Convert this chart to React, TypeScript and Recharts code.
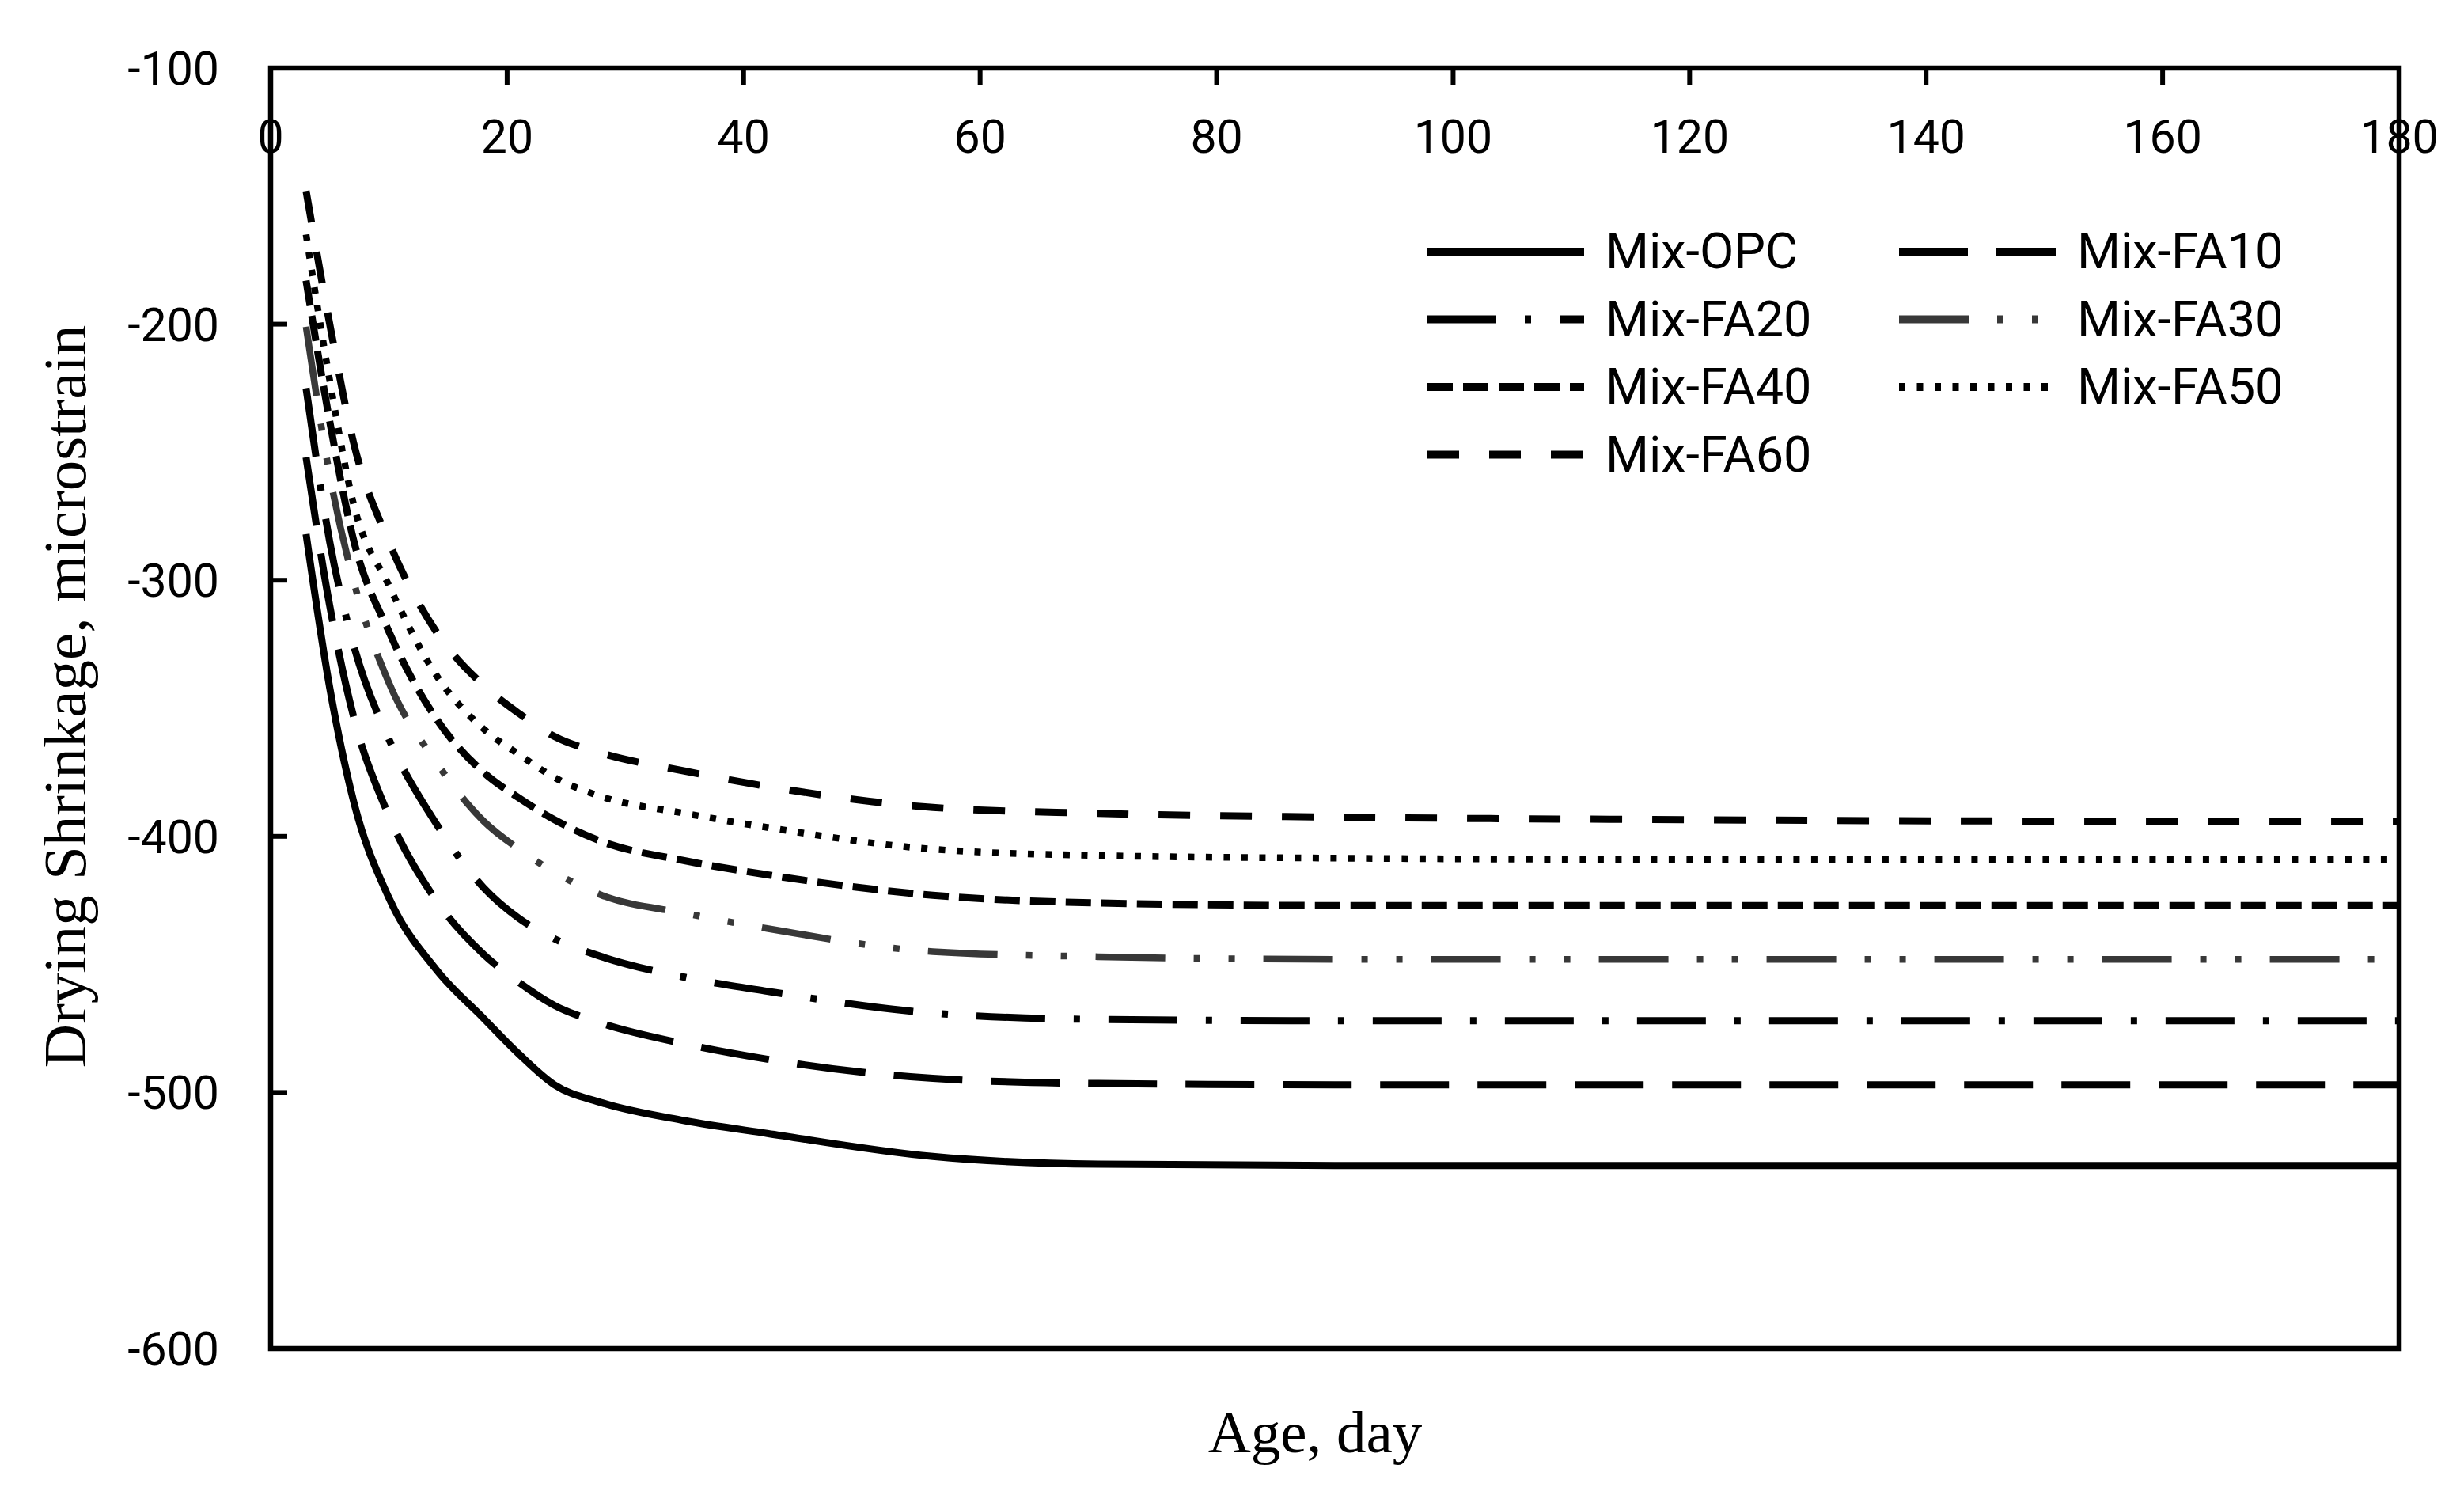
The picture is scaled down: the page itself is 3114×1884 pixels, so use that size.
import React from 'react';
import { LineChart, Line, XAxis, YAxis, Legend, ReferenceArea } from 'recharts';

// Age (days) at which values were read
const days = [3, 5, 7, 10, 14, 18, 21, 24, 28, 35, 42, 56, 70, 90, 120, 150, 180];

// Drying shrinkage (microstrain)
const mixOPC = [-282, -342, -386, -424, -452, -471, -485, -497, -504, -511, -516, -525, -528, -528.5, -528.5, -528.5, -528.5];
const mixFA10 = [-252, -310, -353, -392, -425, -446, -457, -466, -473, -481, -487, -494.5, -496.5, -497, -497, -497, -497];
const mixFA20 = [-225, -285, -325, -362, -395, -420, -432, -440, -447, -455, -460.5, -469, -471.5, -472, -472, -472, -472];
const mixFA30 = [-201, -259, -300, -340, -371, -394, -405, -414, -423, -430, -436, -445, -447, -448, -448, -448, -448];
const mixFA40 = [-183, -238, -284, -320, -354, -375, -385, -393.5, -402, -409.5, -415, -423, -426, -427, -427, -427, -427];
const mixFA50 = [-165, -222, -270, -302, -337, -358, -368, -377, -384.5, -391, -396.5, -405, -407.5, -408.5, -409, -409, -409];
const mixFA60 = [-148, -200, -246, -285, -320, -341, -352, -361, -367.5, -374.5, -380.5, -388.7, -391, -392.5, -393.5, -394, -394];

const xTicks = [0, 20, 40, 60, 80, 100, 120, 140, 160, 180];
const yTicks = [-600, -500, -400, -300, -200, -100];

const data = days.map((d, i) => ({
  day: d,
  opc: mixOPC[i],
  fa10: mixFA10[i],
  fa20: mixFA20[i],
  fa30: mixFA30[i],
  fa40: mixFA40[i],
  fa50: mixFA50[i],
  fa60: mixFA60[i],
}));

const series = [
  { key: 'opc', name: 'Mix-OPC', dash: undefined as string | undefined, color: '#000', width: 9 },
  { key: 'fa10', name: 'Mix-FA10', dash: '87 36', color: '#000', width: 9 },
  { key: 'fa20', name: 'Mix-FA20', dash: '87 36 8 36', color: '#000', width: 9 },
  { key: 'fa30', name: 'Mix-FA30', dash: '88 36 8 36 8 36', color: '#383838', width: 8.5 },
  { key: 'fa40', name: 'Mix-FA40', dash: '32 13', color: '#000', width: 9 },
  { key: 'fa50', name: 'Mix-FA50', dash: '8 14.5', color: '#000', width: 8.5 },
  { key: 'fa60', name: 'Mix-FA60', dash: '40 38', color: '#000', width: 9 },
];

const W = 3114;
const H = 1884;
const PLOT_LEFT = 342;
const PLOT_TOP = 86;
const PLOT_RIGHT = 3032;
const PLOT_BOTTOM = 1704;
const Y_AXIS_W = 80;
const X_AXIS_H = 40;
const SANS = 'Roboto, "Liberation Sans", sans-serif';
const SERIF = '"Liberation Serif", "Times New Roman", serif';

const XTick = (props: any) => {
  const { x, payload } = props;
  return (
    <g>
      <line x1={x} x2={x} y1={PLOT_TOP} y2={PLOT_TOP + 21} stroke="#000" strokeWidth={6} />
      <text x={x} y={PLOT_TOP + 107} textAnchor="middle" fontFamily={SANS} fontSize={59} fill="#000">
        {payload.value}
      </text>
    </g>
  );
};

const YTick = (props: any) => {
  const { y, payload } = props;
  return (
    <g>
      <line x1={PLOT_LEFT} x2={PLOT_LEFT + 21} y1={y} y2={y} stroke="#000" strokeWidth={6} />
      <text x={277} y={y + 21} textAnchor="end" fontFamily={SANS} fontSize={59} fill="#000">
        {payload.value}
      </text>
    </g>
  );
};

const renderLegend = () => (
  <svg width={1100} height={340} style={{ display: 'block', overflow: 'visible' }}>
    {series.map((s, i) => {
      const col = i % 2;
      const row = Math.floor(i / 2);
      const lx = col * 596;
      const ly = 48 + row * 85.5;
      return (
        <g key={s.key}>
          <line
            x1={lx}
            x2={lx + 198}
            y1={ly}
            y2={ly}
            stroke={s.color}
            strokeWidth={10}
            strokeDasharray={s.dash}
          />
          <text x={lx + 225} y={ly + 21} fontFamily={SANS} fontSize={63} fill="#000">
            {s.name}
          </text>
        </g>
      );
    })}
  </svg>
);

export default function App() {
  return (
    <div style={{ position: 'absolute', left: 0, top: 0, width: W, height: H, background: '#fff' }}>
      <LineChart
        width={W}
        height={H}
        data={data}
        margin={{
          top: PLOT_TOP - X_AXIS_H,
          right: W - PLOT_RIGHT,
          bottom: H - PLOT_BOTTOM,
          left: PLOT_LEFT - Y_AXIS_W,
        }}
      >
        <ReferenceArea
          x1={0}
          x2={180}
          y1={-600}
          y2={-100}
          fill="none"
          fillOpacity={0}
          stroke="#000"
          strokeWidth={6.5}
          ifOverflow="visible"
        />
        <XAxis
          dataKey="day"
          type="number"
          orientation="top"
          domain={[0, 180]}
          ticks={xTicks}
          interval={0}
          height={X_AXIS_H}
          axisLine={false}
          tickLine={false}
          tick={<XTick />}
        />
        <YAxis
          type="number"
          domain={[-600, -100]}
          ticks={yTicks}
          interval={0}
          width={Y_AXIS_W}
          axisLine={false}
          tickLine={false}
          tick={<YTick />}
        />
        {series.map((s) => (
          <Line
            key={s.key}
            dataKey={s.key}
            name={s.name}
            type="monotone"
            stroke={s.color}
            strokeWidth={s.width}
            strokeDasharray={s.dash}
            dot={false}
            activeDot={false}
            isAnimationActive={false}
          />
        ))}
        <Legend
          content={renderLegend}
          layout="horizontal"
          verticalAlign="middle"
          align="center"
          wrapperStyle={{ position: 'absolute', left: 1804, top: 270, width: 1100, height: 340 }}
        />
        <text x={1662} y={1835} textAnchor="middle" fontFamily={SERIF} fontSize={75} fill="#000">
          Age, day
        </text>
        <text
          transform="translate(108, 880) rotate(-90)"
          textAnchor="middle"
          fontFamily={SERIF}
          fontSize={77}
          fill="#000"
        >
          Drying Shrinkage, microstrain
        </text>
      </LineChart>
    </div>
  );
}
